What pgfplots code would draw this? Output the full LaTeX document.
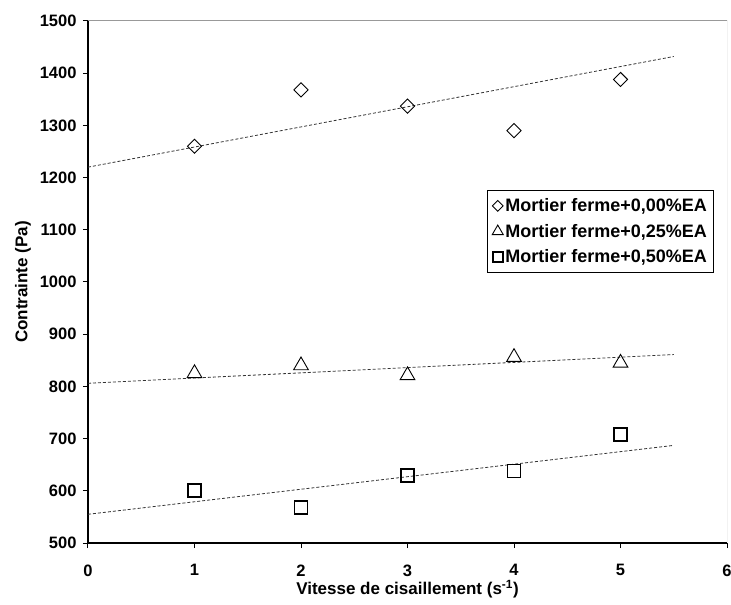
\documentclass[border=0pt]{standalone}
\usepackage{fontspec}
\setmainfont{Liberation Sans}
\usepackage{pgfplots}
\pgfplotsset{compat=1.18}
\begin{document}
\begin{tikzpicture}
\begin{axis}[
  name=ax,
  scale only axis,
  width=639pt, height=522pt,
  xmin=0, xmax=6, ymin=500, ymax=1500,
  xtick={0,1,2,3,4,5,6},
  ytick={500,600,700,800,900,1000,1100,1200,1300,1400,1500},
  axis x line*=bottom, axis y line*=left,
  axis line style={black, line width=1.2pt},
  tick align=outside,
  major tick length=5pt,
  tick style={black, line width=1pt},
  /pgf/number format/assume math mode=true,
  /pgf/number format/1000 sep={},
  ticklabel style={font=\bfseries\fontsize{16.5}{18}\selectfont},
  xticklabel style={yshift=-13pt},
  yticklabel style={xshift=-3pt},
  xlabel={Vitesse de cisaillement (s\textsuperscript{-1})},
  ylabel={Contrainte (Pa)},
  label style={font=\bfseries\fontsize{17}{19}\selectfont},
  xlabel style={yshift=3pt},
  ylabel style={yshift=2pt},
  legend cell align=left,
  legend style={at={(0.624,0.676)}, anchor=north west, draw=black, line width=1pt,
    font=\bfseries\fontsize{18}{20}\selectfont, inner xsep=5pt, inner ysep=6pt, row sep=7pt},
  legend image code/.code={\draw[#1, scale=0.75] plot coordinates {(9pt,0pt)};},
]
\addplot[only marks, mark=square, mark size=5pt, mark options={rotate=45, line width=0.9pt, fill=white}] coordinates {
  (1,1260) (2,1368) (3,1337) (4,1290) (5,1388)};
\addlegendentry{Mortier ferme+0,00\%EA}
\addplot[only marks, mark=triangle, mark size=8.5pt, mark options={line width=0.9pt, fill=white}] coordinates {
  (1,825) (2,840) (3,821) (4,856) (5,845)};
\addlegendentry{Mortier ferme+0,25\%EA}
\addplot[only marks, mark=square, mark size=6.5pt, mark options={line width=1.8pt, fill=white}] coordinates {
  (1,600) (2,568) (3,630) (4,638) (5,708)};
\addlegendentry{Mortier ferme+0,50\%EA}
\addplot[forget plot, black!80, line width=0.8pt, dash pattern=on 3pt off 2pt] coordinates {(0,1220) (5.5,1432)};
\addplot[forget plot, black!80, line width=0.8pt, dash pattern=on 3pt off 2pt] coordinates {(0,806) (5.5,861)};
\addplot[forget plot, black!80, line width=0.8pt, dash pattern=on 3pt off 2pt] coordinates {(0,555) (5.5,687)};
\draw[black!40, line width=1pt] (rel axis cs:0,1) -- (rel axis cs:1,1) -- (rel axis cs:1,0);
\end{axis}
\pgfresetboundingbox
\path[use as bounding box] ([shift={(-88pt,-61pt)}]ax.south west) rectangle ([shift={(4pt,21pt)}]ax.north east);
\end{tikzpicture}
\end{document}
